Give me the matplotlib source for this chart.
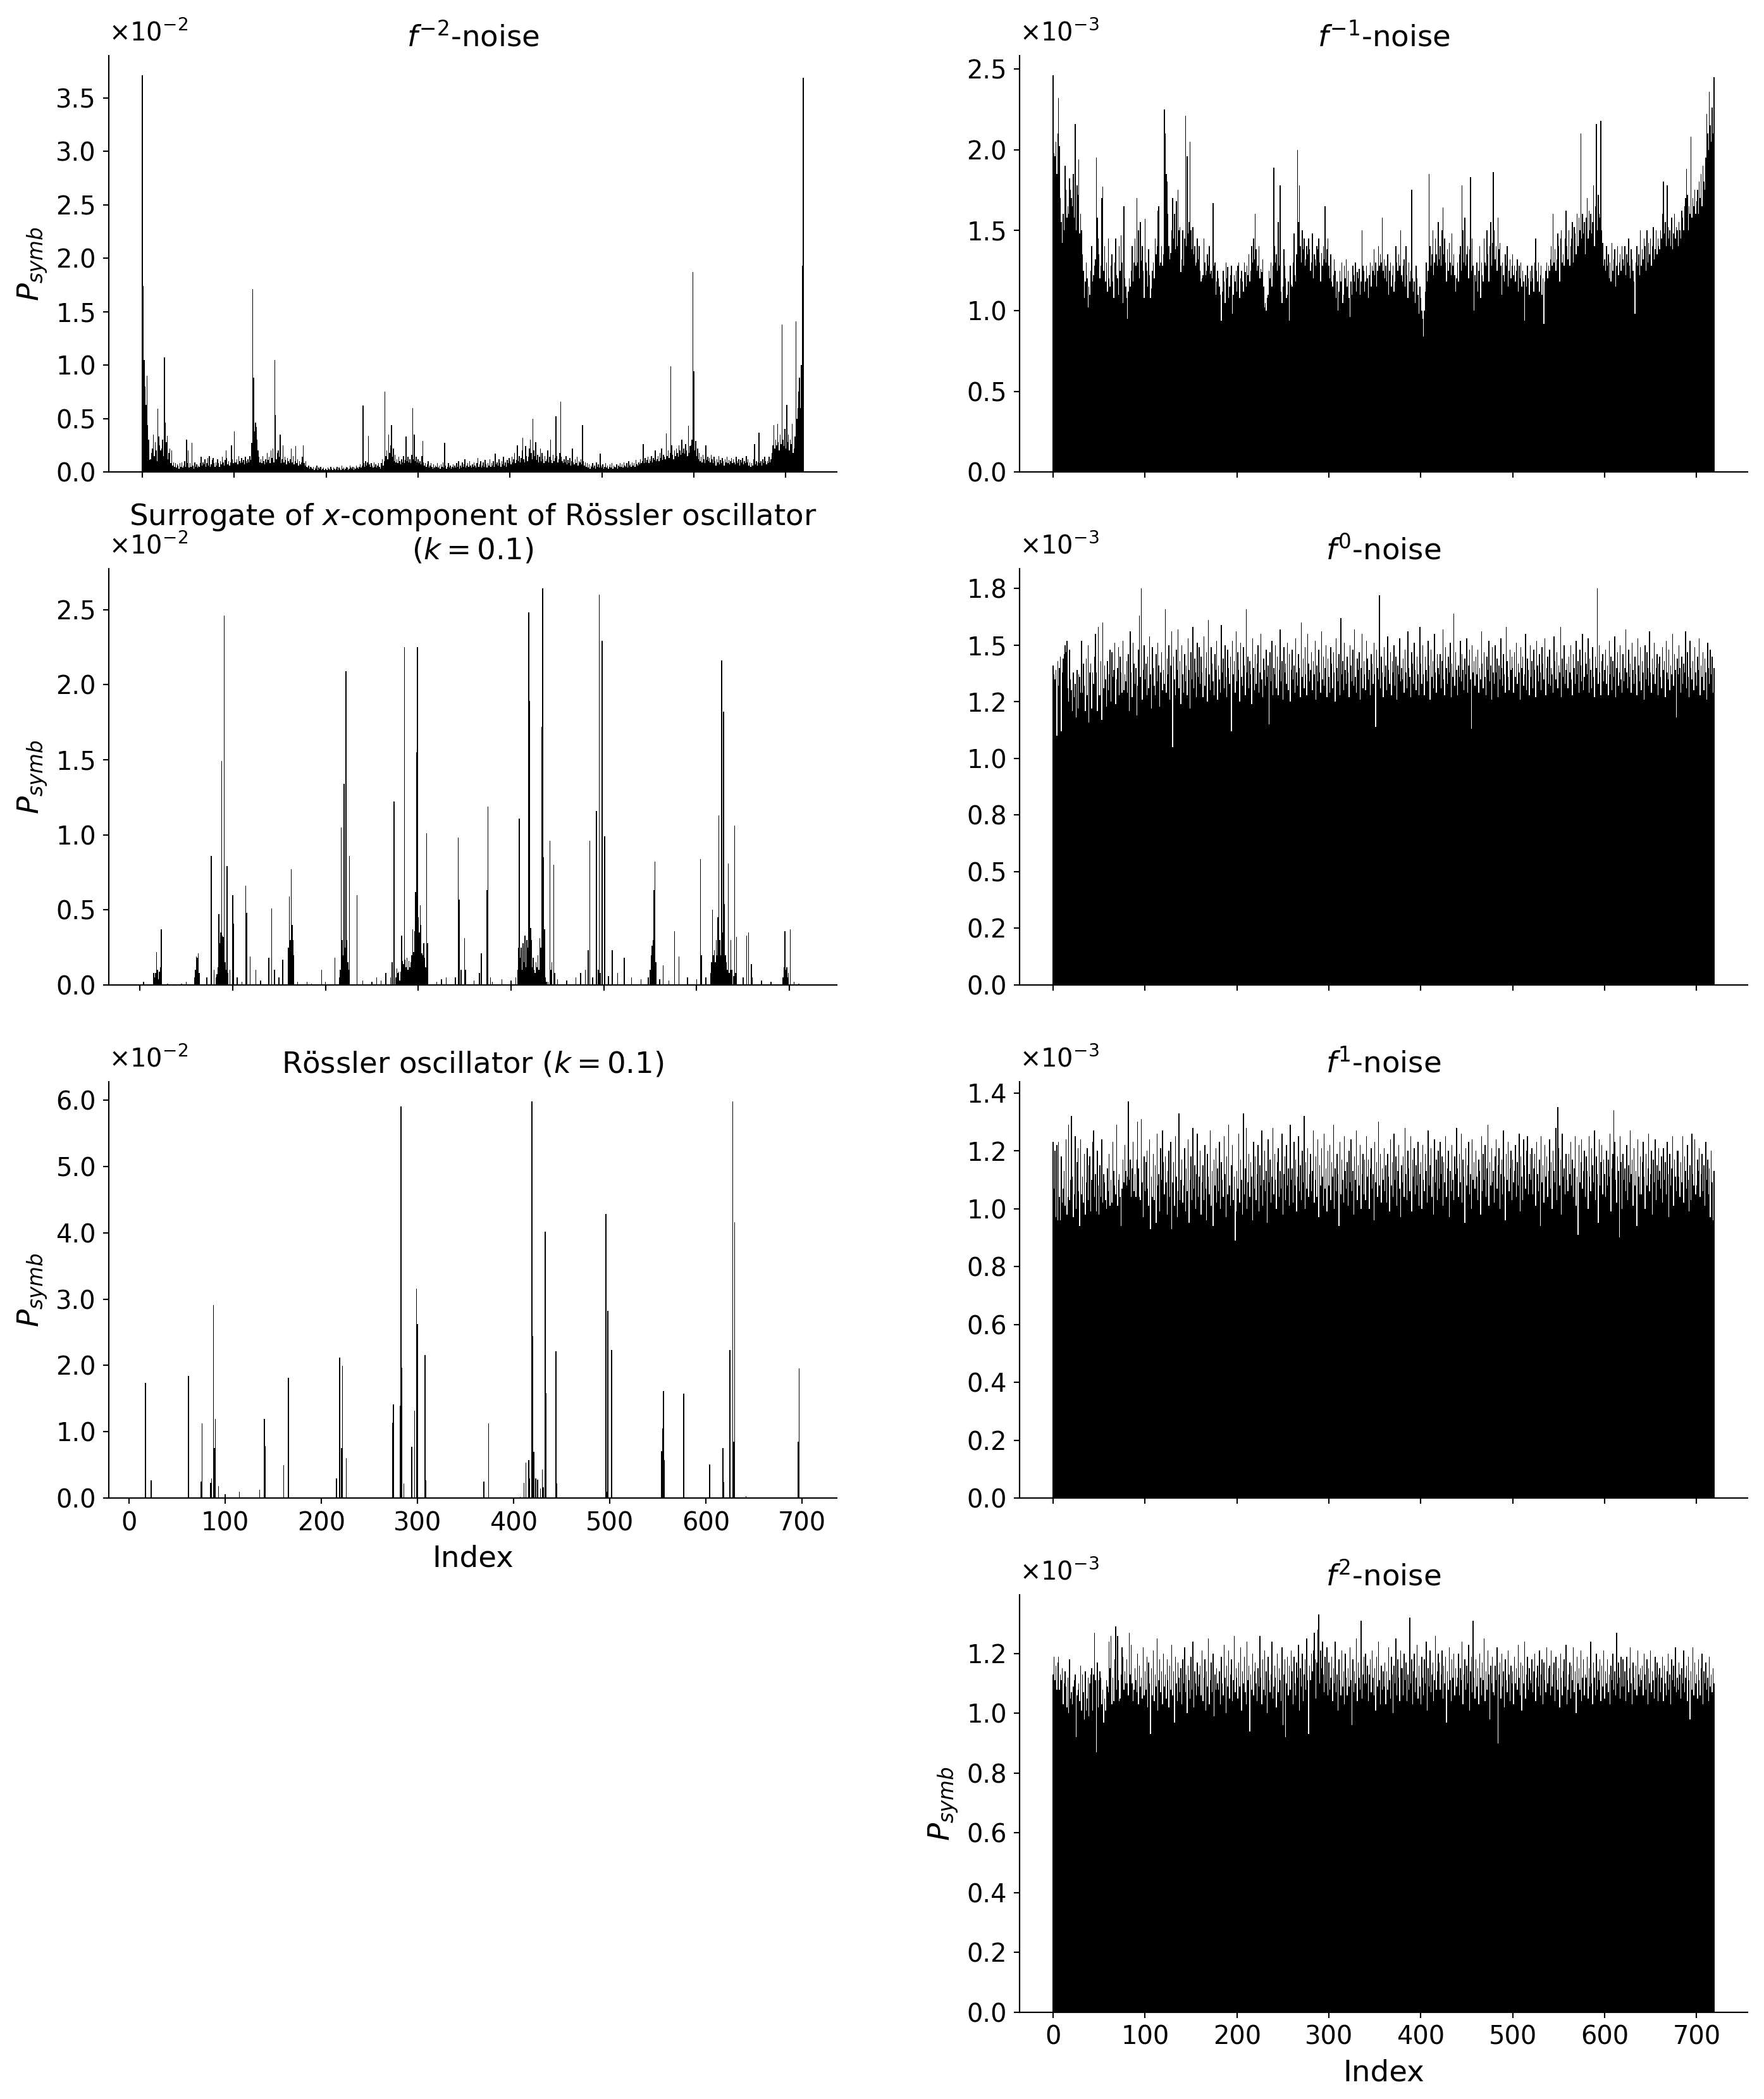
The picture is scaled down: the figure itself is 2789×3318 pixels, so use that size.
import numpy as np
import matplotlib
matplotlib.use("Agg")
import matplotlib.pyplot as plt
from matplotlib.ticker import ScalarFormatter

# ---------------- data ----------------
# f^-2 noise, values in units of 1e-4
f_m2_noise = """
371 174 105 80 63 90 44 30 11 12 18 22 35 15 28 20 10 59 33 25
20 22 30 15 107 46 28 34 12 18 22 8 20 6 9 5 8 4 7 6
3 8 5 9 4 6 10 5 30 8 20 4 8 5 27 6 3 9 5 7
4 6 5 8 14 6 9 7 12 5 8 13 6 15 5 7 11 13 8 5
9 6 12 8 5 10 7 14 9 6 11 20 13 7 10 6 9 25 12 8
38 9 9 12 7 15 10 8 13 9 11 7 14 10 8 12 9 15 11 27
171 88 38 46 42 30 20 14 9 12 8 15 10 7 12 9 18 11 14 8
20 13 22 9 105 53 12 18 20 14 35 8 12 25 9 14 11 7 13 10
8 12 22 9 15 7 10 24 8 12 6 10 7 9 14 25 8 6 10 5
4 6 3 5 4 3 5 2 4 3 6 2 4 3 5 2 3 4 2 3
3 2 4 3 2 5 3 2 4 3 2 3 5 2 4 3 2 6 3 4
2 3 5 4 2 3 6 4 3 5 2 4 3 6 4 3 5 7 4 6
62 8 5 10 6 9 34 7 5 8 6 4 9 5 7 4 6 8 5 3
8 12 6 10 75 15 20 12 35 18 25 44 14 22 10 16 9 12 8 14
10 7 12 9 15 8 11 33 10 14 9 12 8 16 60 12 35 10 14 9
12 8 10 7 15 29 9 6 8 5 7 10 4 6 8 5 3 7 4 6
5 8 4 6 3 7 5 9 4 27 6 3 5 8 4 6 3 5 7 4
6 4 8 5 10 3 6 4 9 5 7 12 4 6 8 5 10 6 4 7
5 9 6 4 8 13 5 7 10 4 6 9 5 11 7 4 8 6 12 5
8 6 10 5 17 7 9 6 12 8 5 10 7 14 6 9 5 11 8 13
10 7 14 9 12 18 8 11 25 10 15 9 13 20 32 12 9 24 15 10
14 22 30 18 12 50 20 15 28 11 16 9 14 22 10 18 12 8 15 10
12 20 9 14 30 11 8 16 10 13 52 15 9 12 18 66 14 10 8 12
9 15 7 11 8 13 6 10 22 9 7 12 8 14 6 10 9 12 7 44
10 6 9 5 8 4 7 3 6 5 8 4 6 3 9 5 7 4 17 6
4 7 3 5 8 4 6 3 5 7 4 8 3 6 5 4 7 3 6 5
8 5 7 4 9 6 5 8 4 10 6 7 5 9 6 8 5 11 7 6
9 7 12 8 10 26 8 13 9 11 14 8 12 10 15 9 13 11 20 10
12 15 10 18 13 22 11 16 14 12 36 15 20 13 18 99 25 16 12 20
15 22 18 14 25 20 16 30 18 22 17 26 20 15 43 18 24 25 30 187
94 20 29 15 22 12 18 10 14 9 16 12 8 25 11 14 10 13 9 16
12 8 14 10 6 12 9 15 7 11 8 13 10 6 12 9 14 8 11 7
10 13 8 12 9 7 14 10 8 12 6 11 9 13 7 10 8 15 9 12
6 9 5 8 6 12 26 7 10 6 9 37 8 10 6 12 8 14 10 7
10 8 14 9 12 18 25 44 22 30 25 45 28 20 35 26 138 30 24 40
22 63 28 35 20 30 26 45 18 22 33 141 50 60 75 88 60 100 193 369
"""

# Surrogate of x-component of Roessler oscillator, {index: value in 1e-2}
surrogate_peaks = {
    4: 0.02, 15: 0.08, 16: 0.05, 17: 0.08, 18: 0.22, 19: 0.10, 20: 0.04, 21: 0.09,
    22: 0.12, 23: 0.37, 30: 0.01, 45: 0.01, 50: 0.02, 59: 0.05, 60: 0.10, 61: 0.19,
    62: 0.18, 63: 0.21, 64: 0.08, 72: 0.05, 77: 0.86, 80: 0.10, 82: 0.05, 83: 0.07,
    84: 0.12, 85: 0.47, 86: 0.28, 87: 0.35, 88: 1.49, 89: 0.33, 90: 0.32, 91: 2.46,
    92: 0.15, 93: 0.10, 94: 0.79, 95: 0.08, 97: 0.10, 100: 0.60, 101: 0.41, 105: 0.05,
    110: 0.02, 114: 0.66, 115: 0.48, 119: 0.19, 125: 0.10, 130: 0.03, 139: 0.18,
    142: 0.51, 145: 0.10, 150: 0.05, 154: 0.17, 160: 0.25, 161: 0.59, 162: 0.30,
    163: 0.77, 164: 0.40, 165: 0.30, 166: 0.20, 170: 0.02, 180: 0.02, 185: 0.01,
    196: 0.10, 200: 0.02, 210: 0.18, 215: 0.05, 216: 0.10, 217: 1.05, 218: 0.30,
    219: 0.20, 220: 1.34, 221: 0.25, 222: 2.09, 223: 0.30, 224: 0.15, 225: 0.10,
    226: 0.86, 234: 0.60, 240: 0.03, 250: 0.02, 255: 0.05, 260: 0.03, 265: 0.08,
    270: 0.05, 272: 0.15, 274: 1.22, 276: 0.05, 277: 0.11, 278: 0.08, 279: 0.09,
    280: 0.03, 281: 0.09, 282: 0.33, 283: 0.16, 284: 0.14, 285: 2.25, 286: 0.17,
    287: 0.12, 288: 0.18, 289: 0.10, 290: 0.16, 291: 0.12, 292: 0.15, 293: 0.20,
    294: 0.37, 295: 0.22, 296: 0.36, 297: 0.62, 298: 1.55, 299: 2.25, 300: 0.45,
    301: 0.35, 302: 0.53, 303: 0.40, 304: 0.21, 305: 0.20, 306: 0.28, 307: 0.18,
    308: 0.12, 309: 1.01, 310: 0.28, 320: 0.02, 325: 0.04, 330: 0.05, 340: 0.05,
    343: 0.98, 344: 0.57, 346: 0.10, 350: 0.31, 351: 0.10, 360: 0.03, 366: 0.08,
    368: 0.21, 374: 0.63, 375: 1.19, 378: 0.05, 380: 0.02, 390: 0.04, 400: 0.03,
    405: 0.05, 407: 0.10, 408: 0.25, 409: 1.11, 410: 0.18, 411: 0.25, 412: 0.10,
    413: 0.28, 414: 0.15, 415: 0.33, 416: 0.12, 417: 0.30, 418: 0.25, 419: 2.48,
    420: 1.89, 421: 0.38, 422: 0.30, 423: 0.12, 424: 0.18, 425: 0.10, 426: 0.08,
    427: 0.15, 428: 0.12, 429: 0.20, 430: 0.10, 431: 0.31, 432: 0.25, 433: 1.72,
    434: 2.64, 435: 0.85, 436: 0.37, 437: 0.05, 438: 0.02, 440: 0.02, 442: 0.96,
    443: 0.10, 444: 0.15, 446: 0.80, 447: 0.08, 450: 0.04, 460: 0.03, 470: 0.05,
    475: 0.08, 480: 0.10, 483: 0.23, 485: 0.96, 488: 0.05, 492: 1.16, 494: 0.10,
    495: 2.60, 496: 0.08, 498: 2.29, 501: 0.99, 505: 0.06, 509: 0.23, 515: 0.08,
    522: 0.18, 530: 0.05, 540: 0.04, 548: 0.05, 550: 0.10, 551: 0.20, 552: 0.26,
    553: 0.30, 554: 0.63, 555: 0.82, 556: 0.15, 560: 0.04, 564: 0.13, 570: 0.03,
    576: 0.36, 581: 0.19, 590: 0.05, 600: 0.04, 604: 0.84, 605: 0.20, 610: 0.05,
    615: 0.08, 616: 0.15, 617: 0.50, 618: 0.20, 619: 0.23, 620: 0.15, 621: 0.30,
    622: 0.20, 623: 0.45, 624: 1.13, 625: 0.30, 626: 0.20, 627: 2.16, 628: 0.35,
    629: 1.82, 630: 0.54, 631: 0.20, 632: 0.15, 633: 0.10, 634: 0.81, 635: 0.08,
    636: 0.10, 637: 0.30, 638: 0.10, 640: 0.06, 641: 1.06, 642: 0.08, 643: 0.32,
    650: 0.05, 654: 0.33, 656: 0.35, 659: 0.14, 660: 0.05, 670: 0.03, 680: 0.02,
    693: 0.05, 694: 0.12, 695: 0.36, 696: 0.10, 697: 0.12, 698: 0.05, 699: 0.08,
    701: 0.37, 705: 0.02, 710: 0.01,
}

# Roessler oscillator (k = 0.1), {index: value in 1e-2}
roessler_peaks = {
    17: 1.74, 23: 0.27, 62: 1.84, 75: 0.25, 76: 1.13, 85: 0.23, 86: 0.30, 88: 2.91,
    89: 0.75, 90: 1.19, 93: 0.18, 100: 0.06, 115: 0.10, 136: 0.12, 141: 1.19,
    142: 0.78, 161: 0.50, 166: 1.81, 216: 0.30, 219: 2.12, 221: 0.75, 222: 1.99,
    226: 0.60, 274: 1.14, 275: 1.41, 282: 1.39, 283: 5.91, 284: 1.97, 286: 0.22,
    294: 0.77, 297: 1.32, 299: 3.16, 300: 2.62, 308: 2.16, 309: 0.27, 369: 0.25,
    374: 1.13, 407: 0.02, 411: 0.23, 413: 0.53, 416: 0.57, 417: 0.30, 419: 5.98,
    420: 2.44, 421: 0.70, 423: 0.30, 425: 0.28, 428: 0.14, 430: 0.43, 431: 0.16,
    433: 4.02, 434: 1.58, 444: 2.21, 445: 0.22, 496: 4.28, 497: 0.10, 498: 2.82,
    502: 2.23, 554: 0.71, 555: 1.05, 556: 1.61, 557: 0.57, 577: 1.57, 604: 0.51,
    618: 0.75, 619: 0.24, 625: 2.23, 628: 5.98, 629: 0.85, 630: 4.16, 642: 0.03,
    696: 0.85, 697: 1.96,
}

# f^-1 noise, values in units of 1e-5
f_m1_noise = """
246 198 196 205 185 210 232 202 170 155 142 160 150 190 175 158 165 160 182 175
170 165 185 158 216 150 178 172 194 148 160 150 135 125 108 118 130 120 102 115
110 125 140 118 122 128 132 195 158 145 135 120 128 170 177 125 140 118 130 112
145 120 115 128 135 118 108 130 145 122 120 110 140 125 147 130 105 165 120 115
108 95 112 120 115 125 140 118 130 145 128 170 130 150 120 155 131 140 125 108
157 130 125 115 138 122 108 114 125 130 120 145 135 140 162 165 128 130 140 128
135 225 210 185 180 160 140 132 136 150 170 145 160 138 168 140 175 150 152 124
132 150 128 145 221 140 196 148 155 205 150 138 152 135 140 128 130 145 132 140
125 118 120 122 145 130 122 125 135 128 140 123 125 120 167 128 130 110 118 125
120 115 110 94 112 125 118 105 130 120 127 108 115 122 128 98 110 122 118 125
112 128 130 108 120 125 118 112 130 124 115 128 122 135 118 125 140 130 145 132
160 138 125 128 140 120 126 124 132 115 102 105 100 108 110 125 120 130 115 128
189 140 130 135 125 155 128 178 112 105 115 138 128 120 108 110 118 94 128 116
115 130 148 122 118 135 200 155 178 140 130 150 138 145 128 132 140 135 145 138
125 130 148 120 135 132 128 140 138 145 130 118 136 128 140 132 165 130 138 145
128 120 135 118 115 122 132 125 108 118 100 112 125 118 130 105 110 128 120 132
115 125 108 96 118 110 128 122 118 130 112 124 120 126 110 118 150 128 125 112
118 128 120 108 122 130 115 128 125 138 122 130 115 125 140 128 135 130 158 125
132 120 128 118 135 110 125 130 115 122 128 112 118 140 130 125 135 128 150 122
118 128 132 115 140 122 108 130 118 125 175 120 112 118 105 128 120 110 98 115
108 100 95 84 100 112 130 118 125 185 140 128 135 150 122 130 145 135 128 155
132 140 128 150 164 135 145 130 118 138 125 142 130 122 148 128 135 122 112 120
130 118 135 140 125 178 150 130 158 128 135 140 120 138 183 125 145 128 100 122
118 130 112 125 140 108 130 122 118 145 130 128 150 135 118 140 155 128 142 186
150 132 140 125 158 138 142 128 110 130 122 118 135 128 140 115 125 132 120 128
135 122 128 118 125 132 112 128 120 130 115 125 118 94 122 115 128 120 110 125
118 128 120 112 130 145 125 118 130 112 122 128 110 120 92 118 125 130 120 128
125 132 140 128 160 130 138 125 132 148 140 118 145 150 130 135 128 145 162 140
132 150 128 140 145 155 130 152 148 135 160 140 158 150 210 145 160 148 155 135
158 170 145 162 150 160 148 155 178 140 165 216 150 172 160 158 218 150 142 128
132 125 140 128 135 120 130 118 142 125 132 138 115 128 140 122 130 135 125 140
132 128 140 122 135 130 145 128 120 138 132 125 118 98 130 140 128 135 122 150
128 138 132 145 140 125 150 130 142 135 145 128 140 152 132 138 150 135 145 140
138 150 145 160 180 148 155 140 178 152 145 150 140 158 138 148 160 145 152 150
140 155 150 145 162 158 150 165 170 188 172 150 165 160 208 158 170 165 175 160
168 175 160 180 170 185 165 190 180 175 195 222 210 200 236 215 205 226 210 245
"""

# f^0 noise, values in units of 1e-5
f_0_noise = """
141 137 135 139 110 143 132 140 145 112 138 144 146 150 147 152 131 125 148 135
130 121 138 127 133 118 139 122 137 136 129 152 129 142 132 121 144 128 150 116
138 142 122 138 133 145 155 138 121 158 128 128 143 117 160 131 141 135 123 143
130 137 148 125 147 136 139 151 124 135 140 149 128 145 138 129 152 130 137 134
143 129 146 121 156 138 127 151 142 133 140 119 132 148 163 136 175 126 139 150
135 142 128 145 131 154 137 122 149 140 132 128 146 134 151 141 123 138 147 130
139 133 166 129 144 137 150 126 141 156 105 145 135 128 148 139 157 131 143 124
150 137 129 146 134 141 128 153 139 122 147 135 158 131 144 138 127 151 136 149
133 145 138 127 154 132 140 147 125 161 137 130 149 142 134 128 146 139 152 126
141 135 129 159 138 144 131 150 136 127 148 140 133 145 112 152 137 143 129 156
134 147 139 125 151 136 132 149 141 128 166 138 145 131 143 137 124 153 140 130
146 133 142 150 129 138 155 135 127 144 139 132 148 136 141 115 147 134 152 128
140 137 150 131 145 128 139 157 134 143 126 149 138 142 133 151 130 146 125 139
148 135 141 129 153 138 132 146 140 127 160 136 144 131 149 137 128 155 142 134
139 147 130 143 137 152 126 141 134 148 138 129 156 135 145 132 140 150 127 144
136 129 149 142 131 147 138 125 153 140 134 146 128 162 137 143 130 151 139 133
145 138 127 150 141 134 148 132 157 136 129 144 139 147 126 140 155 131 143 137
130 152 144 135 139 128 146 142 133 151 137 114 148 140 135 172 131 145 138 127
149 136 141 130 154 139 133 147 128 143 138 150 132 145 126 141 137 153 134 140
135 144 129 148 138 131 156 140 136 127 147 142 133 151 139 130 145 137 128 158
142 133 150 137 128 145 139 134 152 141 126 148 136 143 131 155 138 129 146 140
137 146 131 143 157 135 128 149 140 133 145 138 151 127 142 136 164 132 147 139
128 141 136 152 134 146 139 130 144 137 153 129 141 148 135 113 150 138 143 132
145 137 148 129 140 135 156 142 131 147 136 128 145 139 152 134 141 126 149 138
133 150 138 144 127 141 135 153 140 132 146 137 129 158 143 136 130 148 139 145
140 129 147 136 151 133 142 138 126 149 140 145 132 137 155 130 144 139 128 150
136 143 131 148 139 127 152 141 134 146 138 130 149 142 135 153 128 140 145 133
148 132 140 137 129 154 143 135 147 131 141 138 158 127 144 136 150 133 139 142
131 145 138 150 135 128 146 140 133 152 137 143 129 148 141 134 155 130 136 147
142 137 153 129 144 139 131 149 136 127 145 140 175 133 150 138 128 143 146 134
139 148 133 141 128 152 137 145 130 143 136 154 127 140 147 132 138 150 135 129
146 134 140 157 138 131 148 136 142 129 151 139 133 145 137 128 153 141 134 149
130 143 138 126 150 135 147 140 132 156 138 129 144 137 151 133 140 146 128 142
145 136 131 149 139 143 127 152 138 135 148 130 141 137 155 132 146 139 118 144
137 150 140 129 145 133 142 138 156 131 147 136 127 152 140 135 143 130 149 138
132 145 139 153 128 141 136 147 130 144 138 126 151 140 133 148 137 145 129 140
"""

# f^1 noise, values in units of 1e-5
f_1_noise = """
123 107 120 97 122 96 123 104 96 118 102 107 113 101 124 98 104 129 103 110
132 111 97 105 125 100 116 121 106 94 124 105 111 102 119 98 109 121 103 115
118 99 110 123 127 104 112 99 120 108 98 115 104 124 102 112 109 103 100 114
106 119 101 110 102 123 113 108 105 129 101 110 112 104 94 107 117 109 122 113
108 111 137 110 117 104 114 123 106 112 104 117 130 114 104 103 131 109 97 118
106 116 120 107 101 124 93 111 104 119 103 115 95 126 108 112 99 121 110 127
116 105 118 109 98 113 120 104 123 93 109 116 101 125 111 97 106 133 103 110
117 102 108 121 99 114 106 124 95 110 118 103 128 107 115 100 112 126 104 111
120 98 109 115 103 122 107 96 119 111 105 127 101 113 94 117 108 121 102 114
106 123 100 116 110 104 125 112 97 118 105 129 108 101 115 122 103 111 89 99
113 107 126 102 117 110 98 133 105 114 128 100 109 119 104 116 111 96 123 107
118 103 112 122 99 115 108 127 101 110 120 106 113 95 124 109 117 102 111 128
105 119 110 100 116 121 104 113 107 126 98 112 118 103 122 108 114 101 129 110
114 102 123 108 117 99 111 125 106 115 103 120 109 132 100 116 107 121 104 112
119 106 113 127 102 110 118 104 124 97 115 108 121 111 101 126 107 114 99 120
108 122 103 116 111 129 100 114 106 119 112 94 123 105 117 110 102 125 113 107
116 101 120 109 124 106 113 98 118 110 127 103 115 108 122 100 112 119 105 117
103 125 111 117 100 114 121 107 112 96 123 109 116 104 130 108 119 102 114 110
121 106 115 102 119 111 99 124 108 116 104 126 110 118 101 113 122 107 97 115
109 118 104 128 112 103 120 114 106 125 99 117 111 121 105 115 108 123 101 112
116 100 122 110 106 119 113 102 127 108 115 121 104 111 98 124 109 117 103 120
107 123 112 118 101 116 109 125 104 114 120 97 113 106 122 110 103 118 112 128
114 104 119 109 126 102 117 111 95 121 108 115 123 105 112 100 124 110 116 107
120 111 103 117 113 98 125 106 119 110 122 104 114 129 101 116 108 121 109 113
102 118 124 107 115 121 100 112 117 105 127 111 96 119 110 123 106 114 120 103
117 109 113 122 104 116 108 126 99 118 111 103 124 115 107 120 125 105 112 119
110 121 105 114 119 101 123 112 106 117 94 125 109 115 102 122 111 118 104 113
124 107 116 100 120 113 109 128 103 135 121 108 117 98 126 111 114 105 119 110
106 119 112 123 108 117 104 114 125 101 111 91 122 109 116 124 107 113 120 104
118 113 100 125 111 106 121 115 109 127 103 118 112 95 124 108 116 122 105 117
112 104 120 108 117 111 126 99 114 119 134 123 110 102 118 113 90 125 116 100
119 110 114 106 122 103 115 109 127 112 117 101 121 108 113 94 124 111 105 118
105 116 123 111 100 119 108 114 126 106 112 120 98 117 109 124 103 115 110 121
113 107 118 102 121 110 116 105 123 112 97 119 108 114 125 101 117 111 106 120
120 111 104 116 109 125 102 118 113 107 122 110 99 115 103 126 112 108 124 105
108 117 113 121 104 112 119 106 115 101 123 110 117 105 114 97 120 109 96 113
"""

# f^2 noise, values in units of 1e-5
f_2_noise = """
113 119 111 116 108 117 119 108 113 111 115 103 110 114 109 102 112 100 118 105
107 103 109 111 113 92 106 108 110 104 116 101 113 107 98 114 101 105 112 99
110 113 115 101 113 127 111 87 117 102 111 114 112 103 108 97 105 101 111 109
107 124 115 126 103 112 104 118 129 108 126 111 104 105 113 122 119 108 114 110
118 110 106 127 113 123 110 104 108 115 111 107 120 103 116 109 112 105 122 106
114 108 119 102 117 110 93 115 106 121 104 113 109 125 101 111 118 107 114 103
120 109 113 105 118 111 102 116 108 123 106 114 97 119 110 104 117 112 107 115
103 118 110 122 107 113 100 116 111 105 119 108 124 102 114 110 106 117 109 113
116 106 121 104 112 118 101 114 109 125 103 111 117 107 120 99 113 108 115 110
108 114 103 119 110 106 123 112 100 116 109 121 105 113 118 104 111 126 107 115
112 105 117 109 122 101 114 110 119 107 103 124 111 116 94 113 108 120 106 114
117 110 104 115 109 126 112 103 118 108 121 106 114 100 119 111 107 113 124 105
109 116 112 102 120 107 115 111 104 122 96 113 118 92 110 119 106 116 108 121
114 103 119 110 106 117 112 123 101 115 109 120 104 113 118 108 125 111 93 116
111 120 114 121 127 118 105 117 128 133 110 121 115 124 113 107 119 110 122 106
117 108 112 119 104 115 110 124 107 113 101 118 111 106 121 109 114 103 120 112
106 115 109 122 111 96 118 107 114 110 125 104 117 112 108 131 105 113 119 110
120 110 116 104 113 118 107 121 112 106 115 101 119 109 124 111 103 116 108 114
109 117 103 114 108 122 111 105 119 113 100 116 110 125 106 118 112 104 121 115
115 106 120 111 117 104 113 108 132 110 118 103 114 120 107 112 123 105 116 109
103 119 112 106 118 110 124 101 115 109 121 107 113 117 104 111 126 108 114 120
117 108 113 121 105 116 110 119 97 114 108 122 111 104 118 112 120 106 115 109
112 120 106 115 111 124 103 113 118 108 116 110 123 101 114 119 107 131 112 105
118 109 115 103 120 112 106 117 111 125 104 114 108 121 113 98 116 110 119 107
106 116 111 122 90 113 117 105 120 109 114 102 118 111 107 121 113 104 116 110
114 103 119 110 115 108 123 112 106 117 101 116 110 124 105 113 119 108 115 111
110 118 107 114 120 104 112 116 109 121 106 113 118 103 117 111 107 122 110 115
116 106 121 109 113 117 104 119 111 108 115 102 120 112 106 114 118 109 123 103
108 113 117 105 116 111 122 107 114 100 119 110 115 108 121 104 112 118 106 113
112 119 105 115 109 124 110 103 117 112 106 120 108 114 111 118 104 116 109 121
105 114 110 118 107 113 103 116 111 120 108 114 106 127 110 117 112 105 119 109
118 109 114 104 119 111 107 115 122 110 103 117 112 108 116 106 121 113 109 115
111 116 106 120 113 108 118 103 115 110 121 107 114 111 105 119 112 117 104 113
115 107 112 119 104 116 110 106 114 120 108 113 103 118 111 116 109 122 107 112
108 117 113 105 115 110 121 107 112 116 104 119 111 98 114 108 122 106 117 110
113 105 118 111 106 115 120 103 114 110 117 108 112 104 119 109 113 107 115 110
"""

n_symbols = 720


def codes(text, unit):
    return np.array(text.split(), dtype=float) * unit


def from_peaks(peaks, unit):
    v = np.zeros(n_symbols)
    v[list(peaks.keys())] = list(peaks.values())
    return v * unit


series = {
    "fm2": codes(f_m2_noise, 1e-4),
    "sur": from_peaks(surrogate_peaks, 1e-2),
    "ros": from_peaks(roessler_peaks, 1e-2),
    "fm1": codes(f_m1_noise, 1e-5),
    "f0": codes(f_0_noise, 1e-5),
    "f1": codes(f_1_noise, 1e-5),
    "f2": codes(f_2_noise, 1e-5),
}

# title lines (first entry is the lowest line)
titles = {
    "fm2": [r"$f^{-2}$-noise"],
    "sur": [r"($k = 0.1$)", r"Surrogate of $x$-component of Rössler oscillator"],
    "ros": [r"Rössler oscillator ($k = 0.1$)"],
    "fm1": [r"$f^{-1}$-noise"],
    "f0": [r"$f^{0}$-noise"],
    "f1": [r"$f^{1}$-noise"],
    "f2": [r"$f^{2}$-noise"],
}

# x-range of the two sparse panels in the reference (only observed symbols drawn)
xlims = {"sur": (-33.5, 751.0), "ros": (-21.0, 736.3)}

# ---------------- figure ----------------
plt.rcParams.update({
    "font.family": ["DejaVu Sans"],
    "xtick.labelsize": 12,
    "ytick.labelsize": 12,
    "axes.labelsize": 14,
    "axes.titlesize": 14,
    "axes.linewidth": 0.65,
    "xtick.major.size": 2.8,
    "ytick.major.size": 2.8,
    "xtick.major.width": 0.65,
    "ytick.major.width": 0.65,
    "xtick.major.pad": 3.2,
    "ytick.major.pad": 3.2,
})

W, H, DPI = 2789, 3318, 240
fig = plt.figure(figsize=(W / DPI, H / DPI), dpi=DPI)


class OneDecimal(ScalarFormatter):
    def _set_format(self):
        self.format = "%1.1f"


col_x = [172 / W, 1612 / W]
col_w = 1151 / W
rows_px = [(88, 746), (899, 1557), (1710, 2368), (2521, 3181)]

TITLE_PAD = 4.5      # points
LINE_STEP = 16.1     # points between title baselines

layout = {
    "fm2": (0, 0, True, False),
    "sur": (0, 1, True, False),
    "ros": (0, 2, True, True),
    "fm1": (1, 0, False, False),
    "f0": (1, 1, False, False),
    "f1": (1, 2, False, False),
    "f2": (1, 3, True, True),
}

for key, (c, r, ylab, xlab) in layout.items():
    top, bot = rows_px[r]
    ax = fig.add_axes([col_x[c], 1 - bot / H, col_w, (bot - top) / H])
    vals = series[key]
    x = np.arange(len(vals))
    ax.bar(x, vals, width=1.0, color="black", linewidth=0, antialiased=False)
    if key in xlims:
        ax.set_xlim(*xlims[key])
    ax.spines["top"].set_visible(False)
    ax.spines["right"].set_visible(False)
    fmt = OneDecimal(useMathText=True)
    fmt.set_powerlimits((0, 0))
    ax.yaxis.set_major_formatter(fmt)
    ax.yaxis.OFFSETTEXTPAD = 7.0
    lines = titles[key]
    ax.set_title(lines[0], y=1.0, pad=TITLE_PAD)
    for k, extra in enumerate(lines[1:], start=1):
        ax.annotate(extra, xy=(0.5, 1.0), xycoords="axes fraction",
                    xytext=(0, TITLE_PAD + k * LINE_STEP), textcoords="offset points",
                    ha="center", va="baseline", fontsize=14)
    if ylab:
        ax.set_ylabel(r"$P_{symb}$", labelpad=3)
    if xlab:
        ax.set_xlabel("Index")
    else:
        ax.tick_params(axis="x", labelbottom=False)

fig.savefig("out.png", dpi=DPI)
